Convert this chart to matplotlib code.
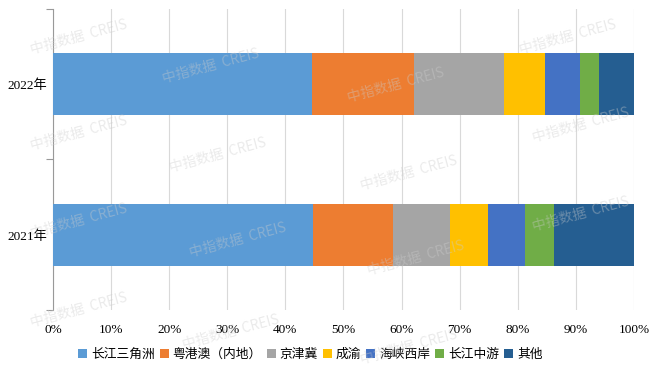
import numpy as np
import matplotlib.pyplot as plt
from matplotlib.ticker import FixedLocator

plt.rcParams['font.family'] = ['Liberation Serif', 'Noto Sans CJK SC']

years = ['2021年', '2022年']
regions = ['长江三角洲', '粤港澳（内地）', '京津冀', '成渝', '海峡西岸', '长江中游', '其他']
share_2021 = [44.8, 13.8, 9.7, 6.5, 6.4, 5.1, 13.7]
share_2022 = [44.5, 17.7, 15.4, 7.0, 6.1, 3.2, 6.1]
colors = ['#5B9BD5', '#ED7D31', '#A5A5A5', '#FFC000', '#4472C4', '#70AD47', '#255E91']
xticks = [0, 10, 20, 30, 40, 50, 60, 70, 80, 90, 100]

data = np.array([share_2021, share_2022])

fig = plt.figure(figsize=(6.6, 3.69), dpi=100)
ax = fig.add_axes([0.0803, 0.160, 0.8803, 0.8156])

left = np.zeros(len(years))
for i, name in enumerate(regions):
    ax.barh(years, data[:, i], left=left, height=0.41, color=colors[i],
            label=name, zorder=3)
    left += data[:, i]

ax.set_xlim(0, 100)
ax.set_ylim(-0.5, 1.5)
ax.set_xticks(xticks)
ax.set_xticklabels([f'{t}%' for t in xticks], fontsize=9.5)
ax.tick_params(axis='x', length=0, pad=10)
ax.tick_params(axis='y', which='major', length=0, labelsize=9.5, pad=4)
ax.yaxis.set_minor_locator(FixedLocator([-0.5, 0.5, 1.5]))
ax.tick_params(axis='y', which='minor', length=5, color='#999999', width=0.8)
ax.grid(axis='x', color='#d9d9d9', linewidth=0.8, zorder=0)
for s in ['top', 'right', 'bottom']:
    ax.spines[s].set_visible(False)
ax.spines['left'].set_color('#999999')
ax.spines['left'].set_linewidth(0.8)

leg = fig.legend(loc='center', bbox_to_anchor=(0.47, 0.04), ncol=7, frameon=False,
                 handlelength=0.7, handleheight=0.7, handletextpad=0.3,
                 columnspacing=0.4, prop={'family': ['Noto Sans CJK SC'], 'size': 9.2})

# faint watermark
for (wx, wy) in [(0.12, 0.90), (0.32, 0.82), (0.60, 0.77), (0.86, 0.90),
                 (0.12, 0.64), (0.33, 0.58), (0.62, 0.53), (0.88, 0.66),
                 (0.12, 0.40), (0.36, 0.35), (0.63, 0.30), (0.88, 0.42),
                 (0.12, 0.16), (0.35, 0.10), (0.62, 0.06)]:
    fig.text(wx, wy, '中指数据  CREIS', family=['Noto Sans CJK SC'], fontsize=10,
             color='#cccccc', alpha=0.4, rotation=15, ha='center', va='center',
             zorder=10)

fig.savefig('out.png', dpi=100)
